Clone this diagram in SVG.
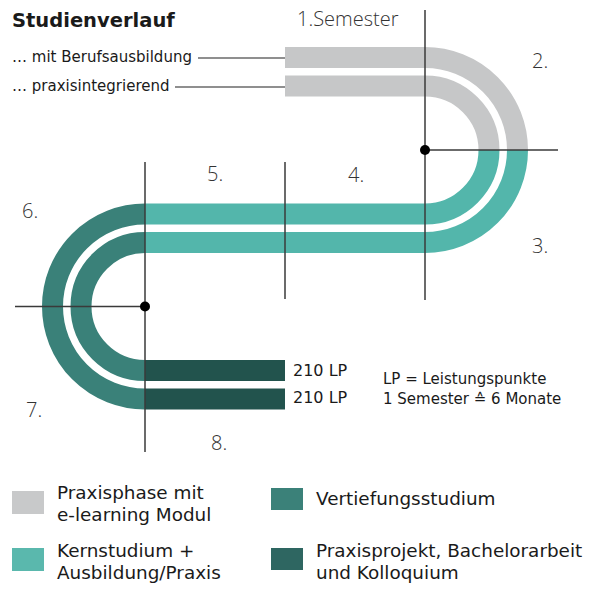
<svg xmlns="http://www.w3.org/2000/svg" width="602" height="598" viewBox="0 0 602 598">
<style>
.t{font-family:"DejaVu Sans","Liberation Sans",sans-serif;fill:#1a1a1a}
.n{font-family:"Open Sans","Liberation Sans",sans-serif;font-weight:300;fill:#333;font-size:20px}
.lg{font-size:18.4px}
.band{fill:none;stroke-width:21;stroke-linecap:butt}
.g{stroke:#c6c7c8}.lt{stroke:#53b6ab}.mt{stroke:#3a8179}.dk{stroke:#22534d}
.ax{stroke:#3a3a3a;stroke-width:1.5;fill:none}
.ld{stroke:#6a6a6a;stroke-width:1.5}
</style>
<rect width="602" height="598" fill="#fff"/>
<g id="title"><text class="t" x="12" y="27" font-size="19.5" font-weight="bold">Studienverlauf</text></g>

<g id="track-berufsausbildung">
<path class="band g" d="M285,57.5 H425 A92.5,92.5 0 0 1 517.5,150"/>
<path class="band lt" d="M517.5,150 A92.5,92.5 0 0 1 425,242.5 H145"/>
<path class="band mt" d="M145,242.5 A64,64 0 0 0 145,370.5"/>
<path class="band dk" d="M145,370.5 H285"/>
</g>
<g id="track-praxisintegrierend">
<path class="band g" d="M285,86 H425 A64,64 0 0 1 489,150"/>
<path class="band lt" d="M489,150 A64,64 0 0 1 425,214 H145"/>
<path class="band mt" d="M145,214 A92.5,92.5 0 0 0 145,399"/>
<path class="band dk" d="M145,399 H285"/>
</g>

<g id="connectors">
<line class="ld" x1="198" y1="58" x2="285" y2="58"/>
<line class="ld" x1="175" y1="87" x2="285" y2="87"/>
<line class="ax" x1="425" y1="10" x2="425" y2="300"/>
<line class="ax" x1="425" y1="150" x2="558" y2="150"/>
<line class="ax" x1="285" y1="162" x2="285" y2="299"/>
<line class="ax" x1="145" y1="162" x2="145" y2="452"/>
<line class="ax" x1="15" y1="306.5" x2="145" y2="306.5"/>
<circle cx="425" cy="150" r="5" fill="#000"/>
<circle cx="145" cy="306.5" r="5" fill="#000"/>
</g>

<g id="labels">
<text class="t" x="12" y="62" font-size="15">… mit Berufsausbildung</text>
<text class="t" x="12" y="91" font-size="15">… praxisintegrierend</text>
<text class="n" x="297" y="26" font-size="21">1.Semester</text>
<text class="n" x="532" y="68">2.</text>
<text class="n" x="532" y="253">3.</text>
<text class="n" x="348" y="182">4.</text>
<text class="n" x="207" y="181">5.</text>
<text class="n" x="22" y="218">6.</text>
<text class="n" x="26" y="417">7.</text>
<text class="n" x="211" y="450">8.</text>
<text class="t" x="293" y="376" font-size="16">210 LP</text>
<text class="t" x="293" y="403" font-size="16">210 LP</text>
<text class="t" x="383" y="384" font-size="15">LP = Leistungspunkte</text>
<text class="t" x="383" y="404" font-size="15">1 Semester ≙ 6 Monate</text>
</g>

<g id="legend-praxisphase">
<rect x="12" y="491" width="32" height="23" fill="#c8c9ca"/>
<text class="t lg" x="57" y="499">Praxisphase mit</text>
<text class="t lg" x="57" y="521">e-learning Modul</text>
</g>
<g id="legend-kernstudium">
<rect x="12" y="548" width="32" height="23" fill="#5ab8ad"/>
<text class="t lg" x="57" y="557">Kernstudium +</text>
<text class="t lg" x="57" y="579">Ausbildung/Praxis</text>
</g>
<g id="legend-vertiefung">
<rect x="271" y="488" width="32" height="22" fill="#3b8179"/>
<text class="t lg" x="316" y="505">Vertiefungsstudium</text>
</g>
<g id="legend-praxisprojekt">
<rect x="271" y="548" width="32" height="22" fill="#2e6661"/>
<text class="t lg" x="316" y="557">Praxisprojekt, Bachelorarbeit</text>
<text class="t lg" x="316" y="579">und Kolloquium</text>
</g>
</svg>
